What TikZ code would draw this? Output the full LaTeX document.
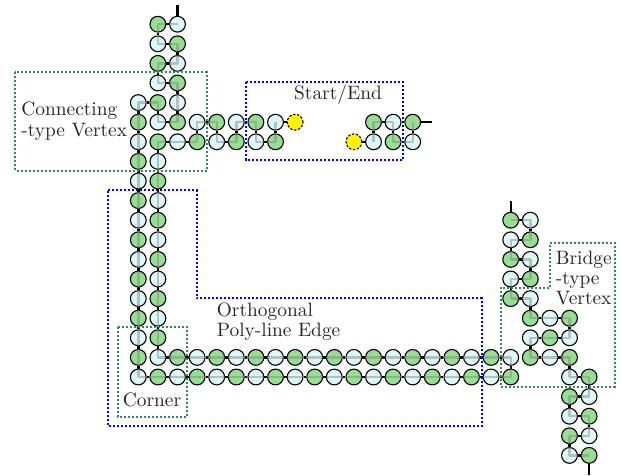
\documentclass[tikz,border=0pt]{standalone}
\definecolor{hgreen}{RGB}{150,222,145}
\definecolor{pblue}{RGB}{222,248,248}
\definecolor{boxgreen}{RGB}{46,139,87}
\definecolor{boxblue}{RGB}{0,0,255}
\tikzset{
  bead/.style={circle, draw=black, line width=0.55pt, minimum size=7.9pt, inner sep=0pt},
  endbead/.style={bead, fill=yellow, dashed, dash pattern=on 1.2pt off 0.8pt},
  bond/.style={line width=1.2pt, black},
  rail/.style={line width=1.2pt, draw=gray, draw opacity=0.45, line join=round},
  gbox/.style={draw=boxgreen, line width=1pt, dash pattern=on 1pt off 1pt},
  bbox/.style={draw=boxblue, line width=1pt, dash pattern=on 1pt off 1pt},
  lbl/.style={font=\fontsize{9.7}{10.8}\selectfont, text=black!85, inner sep=0pt, align=left}
}
\newcommand\placebeads[1]{%
  \foreach \x/\y in #1{%
    \pgfmathtruncatemacro\pty{mod(\x+\y,2)}%
    \ifnum\pty=0 \def\bc{hgreen}\else\def\bc{pblue}\fi
    \node[bead, fill=\bc] (n\x-\y) at (\x,\y) {};
  }}
\newcommand\bondbeads[1]{%
  \foreach \x/\y [count=\k, remember=\x as \px (initially 0), remember=\y as \py (initially 0)] in #1{%
    \ifnum\k>1 \draw[bond] (n\px-\py) -- (n\x-\y);\fi
  }}
\def\chainA{2/23,1/23,1/22,2/22,2/21,1/21,1/20,2/20,2/19,2/18,1/18,1/19,0/19,0/18,0/17,0/16,0/15,0/14,0/13,0/12,0/11,0/10,0/9,0/8,0/7,0/6,0/5,1/5,2/5,3/5,4/5,5/5,6/5,7/5,8/5,9/5,10/5,11/5,12/5,13/5,14/5,15/5,16/5,17/5,18/5,19/5,19/6,18/6,17/6,16/6,15/6,14/6,13/6,12/6,11/6,10/6,9/6,8/6,7/6,6/6,5/6,4/6,3/6,2/6,1/6,1/7,1/8,1/9,1/10,1/11,1/12,1/13,1/14,1/15,1/16,1/17,2/17,3/17,3/18,4/18,4/17,5/17,5/18,6/18,6/17,7/17,7/18}
\def\chainB{12/17,12/18,13/18,13/17,14/17,14/18}
\def\chainC{19/13,20/13,20/12,19/12,19/11,20/11,20/10,19/10,19/9,20/9,20/8,21/8,22/8,22/7,21/7,20/7,20/6,21/6,22/6,22/5,23/5,23/4,22/4,22/3,23/3,23/2,22/2,22/1,23/1}
\begin{document}
\begin{tikzpicture}[x=0.5pt,y=-0.5pt]
\useasboundingbox (0,0) rectangle (621,476);
\begin{scope}[shift={(138.3,475)}, x=9.8pt, y=9.8pt]
  \placebeads{\chainA}
  \placebeads{\chainB}
  \placebeads{\chainC}
  \node[endbead] (n8-18) at (8,18) {};
  \node[endbead] (n11-17) at (11,17) {};
  \coordinate (sA) at (2,24);
  \coordinate (sB) at (15,18);
  \coordinate (sC) at (19,14);
  \coordinate (sD) at (23,0);
  \draw[rail] (2,23) \foreach \x/\y in \chainA {-- (\x,\y)};
  \draw[rail] (12,17) \foreach \x/\y in \chainB {-- (\x,\y)};
  \draw[rail] (19,13) \foreach \x/\y in \chainC {-- (\x,\y)};
  \bondbeads{\chainA}
  \bondbeads{\chainB}
  \bondbeads{\chainC}
  \draw[bond] (n7-18) -- (n8-18);
  \draw[bond] (n11-17) -- (n12-17);
  \draw[bond] (n2-23) -- (sA);
  \draw[bond] (n14-18) -- (sB);
  \draw[bond] (n19-13) -- (sC);
  \draw[bond] (n23-1) -- (sD);
\end{scope}
\draw[gbox] (15,72.3) rectangle (206.7,170.7);
\draw[bbox] (246,82.3) rectangle (403.3,160);
\draw[bbox] (108.3,190) -- (196.7,190) -- (196.7,298) -- (481.7,298) -- (481.7,426) -- (108.3,426) -- cycle;
\draw[gbox] (118.3,326.7) rectangle (187.3,416.7);
\draw[gbox] (550,243.3) -- (615,243.3) -- (615,386.7) -- (500.7,386.7) -- (500.7,287.7) -- (550,287.7) -- cycle;
\node[lbl, anchor=west] (tConn) at (21,121) {Connecting\\-type Vertex};
\node[lbl] (tSE) at (338,95) {Start/End};
\node[lbl, anchor=west, font=\fontsize{9.7}{10}\selectfont] (tPoly) at (216.5,322) {Orthogonal\\Poly-line Edge};
\node[lbl] (tCorner) at (152,400) {Corner};
\node[lbl, anchor=west, font=\fontsize{9.7}{10}\selectfont] (tBridge) at (555.5,278) {Bridge\\-type\\Vertex};
\end{tikzpicture}
\end{document}
